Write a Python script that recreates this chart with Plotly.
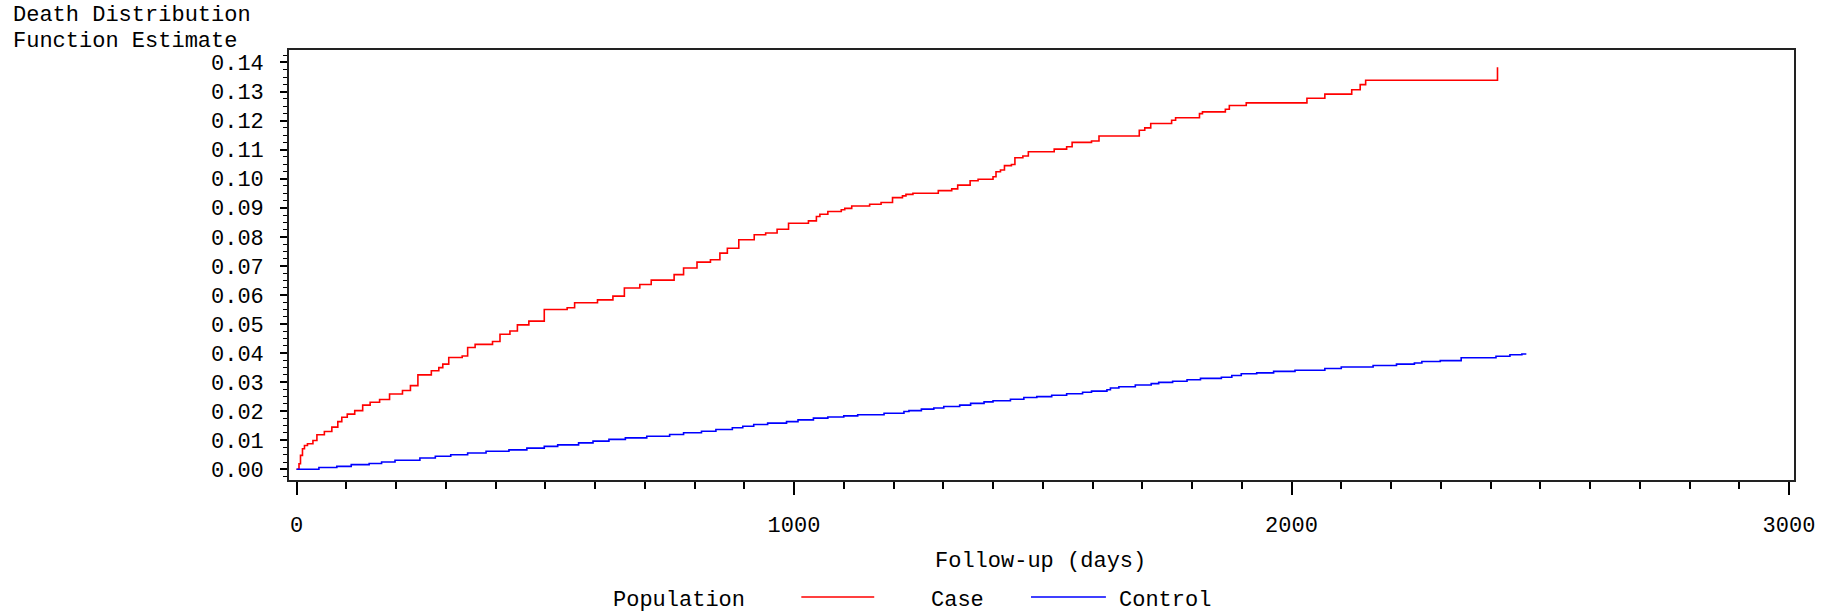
import plotly.graph_objects as go

# ---- data ----
case_days = [0, 5, 8, 12, 16, 22, 33, 41, 56, 71, 83, 91, 102, 117, 133, 148, 167, 187, 213, 229,
             244, 271, 286, 294, 306, 333, 344, 359, 394, 409, 429, 444, 467, 498, 544, 559, 605,
             636, 659, 690, 713, 759, 778, 805, 832, 851, 866, 889, 920, 943, 966, 989, 1029, 1045,
             1052, 1068, 1095, 1102, 1116, 1152, 1175, 1198, 1218, 1225, 1239, 1290, 1317, 1329,
             1354, 1370, 1400, 1406, 1415, 1423, 1437, 1444, 1460, 1471, 1523, 1548, 1559, 1598,
             1613, 1694, 1705, 1717, 1759, 1767, 1815, 1821, 1867, 1875, 1909, 2031, 2067, 2121,
             2138, 2149, 2414]
case_est = [0.0, 0.0019, 0.0048, 0.0071, 0.0082, 0.0088, 0.0099, 0.0119, 0.0130, 0.0145, 0.0164,
            0.0179, 0.0190, 0.0202, 0.0221, 0.0231, 0.0240, 0.0259, 0.0271, 0.0288, 0.0325, 0.0339,
            0.0350, 0.0362, 0.0385, 0.0390, 0.0419, 0.0430, 0.0440, 0.0465, 0.0476, 0.0497, 0.0510,
            0.0550, 0.0556, 0.0573, 0.0583, 0.0596, 0.0624, 0.0636, 0.0651, 0.0670, 0.0693, 0.0713,
            0.0721, 0.0744, 0.0761, 0.0790, 0.0807, 0.0813, 0.0826, 0.0847, 0.0855, 0.0870, 0.0878,
            0.0887, 0.0893, 0.0898, 0.0906, 0.0912, 0.0918, 0.0935, 0.0941, 0.0946, 0.0950, 0.0959,
            0.0965, 0.0978, 0.0993, 0.0998, 0.1007, 0.1024, 0.1030, 0.1045, 0.1049, 0.1072, 0.1078,
            0.1093, 0.1102, 0.1110, 0.1125, 0.1130, 0.1147, 0.1167, 0.1175, 0.1190, 0.1201, 0.1210,
            0.1224, 0.1230, 0.1239, 0.1252, 0.1261, 0.1277, 0.1291, 0.1306, 0.1324, 0.1339, 0.1384]

control_days = [0, 45, 81, 110, 146, 171, 198, 248, 279, 310, 344, 381, 427, 463, 498, 525, 567,
                596, 628, 661, 704, 750, 778, 814, 843, 876, 897, 919, 947, 985, 1008, 1039, 1068,
                1100, 1128, 1181, 1221, 1231, 1256, 1281, 1301, 1333, 1355, 1382, 1400, 1435, 1462,
                1488, 1518, 1548, 1580, 1598, 1629, 1636, 1653, 1686, 1718, 1733, 1761, 1790, 1817,
                1859, 1880, 1899, 1930, 1964, 2007, 2067, 2100, 2164, 2211, 2247, 2262, 2299, 2341,
                2411, 2439, 2463, 2472]
control_est = [0.0, 0.0006, 0.0010, 0.0016, 0.0020, 0.0025, 0.0031, 0.0039, 0.0045, 0.0050, 0.0056,
               0.0062, 0.0067, 0.0073, 0.0079, 0.0084, 0.0091, 0.0097, 0.0103, 0.0108, 0.0114,
               0.0120, 0.0126, 0.0131, 0.0137, 0.0143, 0.0148, 0.0154, 0.0159, 0.0164, 0.0170,
               0.0176, 0.0180, 0.0184, 0.0188, 0.0193, 0.0199, 0.0202, 0.0207, 0.0211, 0.0216,
               0.0221, 0.0227, 0.0232, 0.0236, 0.0241, 0.0247, 0.0250, 0.0255, 0.0260, 0.0265,
               0.0269, 0.0274, 0.0280, 0.0284, 0.0290, 0.0295, 0.0299, 0.0303, 0.0308, 0.0313,
               0.0317, 0.0323, 0.0329, 0.0332, 0.0337, 0.0341, 0.0347, 0.0352, 0.0357, 0.0362,
               0.0366, 0.0371, 0.0374, 0.0384, 0.0389, 0.0394, 0.0397, 0.0397]

y_ticks = [0.00, 0.01, 0.02, 0.03, 0.04, 0.05, 0.06, 0.07, 0.08, 0.09, 0.10, 0.11, 0.12, 0.13, 0.14]
y_tick_labels = ["0.00", "0.01", "0.02", "0.03", "0.04", "0.05", "0.06", "0.07",
                 "0.08", "0.09", "0.10", "0.11", "0.12", "0.13", "0.14"]
x_ticks = [0, 1000, 2000, 3000]
x_tick_labels = ["0", "1000", "2000", "3000"]

FONT = "Liberation Mono, DejaVu Sans Mono, monospace"
FS = 22

fig = go.Figure()
fig.add_trace(go.Scatter(x=case_days, y=case_est, mode="lines", line_shape="hv",
                         line=dict(color="#ff0000", width=1.6), name="Case", showlegend=False))
fig.add_trace(go.Scatter(x=control_days, y=control_est, mode="lines", line_shape="hv",
                         line=dict(color="#0000ff", width=1.6), name="Control", showlegend=False))

W, H = 1827, 612
L, R, T, B = 289, 31, 50, 132
pw, ph = W - L - R, H - T - B


def px_x(x):
    return (x - L) / pw


def px_y(y):
    return 1 - (y - T) / ph


fig.update_layout(
    width=W, height=H,
    margin=dict(l=L, r=R, t=T, b=B, pad=0),
    paper_bgcolor="white", plot_bgcolor="white",
    font=dict(family=FONT, color="black", size=FS),
    showlegend=False,
    xaxis=dict(
        range=[-15.1, 3010], tickmode="array", tickvals=x_ticks, ticktext=x_tick_labels,
        ticks="outside", ticklen=13, tickwidth=1.5, tickcolor="black",
        showline=True, linecolor="#222222", linewidth=1.6, mirror=True,
        showgrid=False, zeroline=False, ticklabelstandoff=11,
        tickfont=dict(family=FONT, size=FS, color="black"),
        minor=dict(dtick=100, tick0=0, ticks="outside", ticklen=7, tickwidth=1.5,
                   tickcolor="black", showgrid=False),
    ),
    yaxis=dict(
        range=[-0.00368, 0.1443], tickmode="array", tickvals=y_ticks, ticktext=y_tick_labels,
        ticks="outside", ticklen=7, tickwidth=1.5, tickcolor="black",
        showline=True, linecolor="#222222", linewidth=1.6, mirror=True,
        showgrid=False, zeroline=False, ticklabelstandoff=12,
        tickfont=dict(family=FONT, size=FS, color="black"),
        minor=dict(dtick=0.0025, tick0=0, ticks="outside", ticklen=4, tickwidth=1.2,
                   tickcolor="black", showgrid=False),
    ),
)

ann = []
# y-axis title (two lines, top-left)
ann.append(dict(text="Death Distribution", xref="paper", yref="paper", x=px_x(12), y=px_y(15),
                xanchor="left", yanchor="middle", showarrow=False, font=dict(family=FONT, size=FS),
                borderpad=0))
ann.append(dict(text="Function Estimate", xref="paper", yref="paper", x=px_x(12), y=px_y(41),
                xanchor="left", yanchor="middle", showarrow=False, font=dict(family=FONT, size=FS),
                borderpad=0))
# x-axis title
ann.append(dict(text="Follow-up (days)", xref="paper", yref="paper", x=px_x(1041), y=px_y(561),
                xanchor="center", yanchor="middle", showarrow=False, font=dict(family=FONT, size=FS)))
# legend
ann.append(dict(text="Population", xref="paper", yref="paper", x=px_x(611), y=px_y(600),
                xanchor="left", yanchor="middle", showarrow=False, font=dict(family=FONT, size=FS)))
ann.append(dict(text="Case", xref="paper", yref="paper", x=px_x(930), y=px_y(600),
                xanchor="left", yanchor="middle", showarrow=False, font=dict(family=FONT, size=FS)))
ann.append(dict(text="Control", xref="paper", yref="paper", x=px_x(1118), y=px_y(600),
                xanchor="left", yanchor="middle", showarrow=False, font=dict(family=FONT, size=FS)))
fig.update_layout(annotations=ann)

fig.add_shape(type="line", xref="paper", yref="paper", x0=px_x(802), x1=px_x(875),
              y0=px_y(597), y1=px_y(597), line=dict(color="#ff0000", width=1.6))
fig.add_shape(type="line", xref="paper", yref="paper", x0=px_x(1032), x1=px_x(1107),
              y0=px_y(597), y1=px_y(597), line=dict(color="#0000ff", width=1.6))

fig.write_html("out.html", config={"displayModeBar": False},
               post_script="document.body.style.margin='0';document.body.style.overflow='hidden';")
